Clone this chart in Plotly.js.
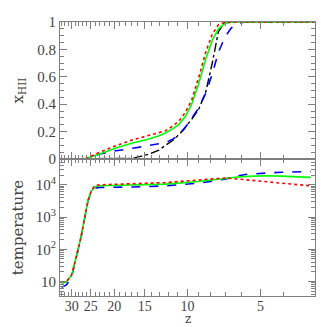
<!DOCTYPE html>
<html>
<head>
<meta charset="utf-8">
<script src="https://cdn.plot.ly/plotly-3.0.1.min.js"></script>
<style>
  html, body { margin: 0; padding: 0; background: #fff; }
  #graphDiv { width: 327px; height: 327px; }
</style>
</head>
<body>
<div id="graphDiv"></div>
<script>
// Ionized fraction (top) and temperature (bottom) against redshift

// redshift grid for the ionized fraction panel
var zIon = [33, 30, 26.5, 23, 19.7, 16.8, 14.4, 13.1, 12.3, 11.5, 10.8, 10.2, 9.6, 9.0, 8.4, 7.9, 7.45, 7.0, 6.6, 6.2, 5.8, 5, 4, 3];
var xRed   = [0, 0, 0, 0.049, 0.097, 0.14, 0.17, 0.19, 0.206, 0.24, 0.28, 0.34, 0.43, 0.59, 0.78, 0.91, 0.98, 0.997, 1, 1, 1, 1, 1, 1];
var xGreen = [0, 0, 0, 0.036, 0.08, 0.117, 0.146, 0.17, 0.19, 0.22, 0.255, 0.31, 0.40, 0.545, 0.73, 0.865, 0.95, 0.99, 0.999, 1, 1, 1, 1, 1];
var xBlue  = [0, 0, 0, 0.036, 0.06, 0.078, 0.097, 0.108, 0.12, 0.145, 0.175, 0.23, 0.295, 0.37, 0.48, 0.62, 0.78, 0.89, 0.955, 0.99, 1, 1, 1, 1];
var xBlack = [0, 0, 0, 0, 0, 0.005, 0.035, 0.065, 0.1, 0.135, 0.18, 0.23, 0.29, 0.36, 0.49, 0.70, 0.93, 1, 1, 1, 1, 1, 1, 1];

// redshift grid for the temperature panel
var zTemp = [33, 31.5, 30, 29.1, 28.2, 27.3, 26.5, 25.7, 24.9, 24.1, 23, 16.8, 12.3, 9, 7, 6.2, 5.6, 5.1, 4.8, 4.1, 3.1];
var tRed   = [9.3, 10, 16, 37, 98, 290, 950, 3200, 6500, 9300, 10000, 11000, 11700, 14100, 16200, 15100, 13800, 13200, 12600, 11200, 9300];
var tGreen = [8.8, 9.6, 15.5, 37, 97, 288, 940, 3150, 6300, 8500, 9300, 9800, 10500, 12600, 15800, 17400, 18200, 18600, 19000, 18600, 17000];
var tBlue  = [6.6, 7.8, 14, 35, 95, 285, 930, 3100, 6000, 7800, 8300, 8500, 9300, 11200, 15000, 19000, 21400, 22400, 23400, 24500, 25700];

// tick labels
var zTicks = [30, 25, 20, 15, 10, 5];
var tTicks = [10, 100, 1000, 10000];
var tTickText = ["10", "10<sup>2</sup>", "10<sup>3</sup>", "10<sup>4</sup>"];

var zMinor = [];
for (var i = 3; i <= 33; i++) zMinor.push(i);
var tMinor = [];
for (var d = 1; d <= 10000; d *= 10) {
    for (var m = 2; m <= 9; m++) tMinor.push(m * d);
}

var axisColor = "#808080";
var textColor = "#444";

var line = function (x, y, color, dash, xa, ya, width) {
    return {
        x: x, y: y, xaxis: xa, yaxis: ya,
        mode: "lines", type: "scatter",
        line: { color: color, dash: dash, width: width || 1.6 },
        hoverinfo: "none", showlegend: false
    };
};

var data = [
    line(zIon, xBlack, "#000000", "dashdot", "x", "y", 1.4),
    line(zIon, xBlue, "#0000ff", "dash", "x", "y"),
    line(zIon, xGreen, "#00ff00", "solid", "x", "y"),
    line(zIon, xRed, "#ff0000", "dot", "x", "y"),
    line(zTemp, tBlue, "#0000ff", "dash", "x2", "y2"),
    line(zTemp, tGreen, "#00ff00", "solid", "x2", "y2"),
    line(zTemp, tRed, "#ff0000", "dot", "x2", "y2")
];

var zRange = [Math.log10(33.5), Math.log10(2.98)];

var baseAxis = {
    showline: true, linecolor: axisColor, linewidth: 1,
    mirror: "allticks", ticks: "inside", ticklen: 7, tickwidth: 1, tickcolor: axisColor,
    showgrid: false, zeroline: false,
    tickfont: { family: "Liberation Serif, serif", size: 15, color: textColor }
};

var layout = {
    width: 327, height: 327,
    margin: { l: 60, r: 12, t: 22, b: 31 },
    paper_bgcolor: "#fff", plot_bgcolor: "#fff",
    showlegend: false,
    xaxis: Object.assign({}, baseAxis, {
        type: "log", range: zRange, anchor: "y",
        tickmode: "array", tickvals: zTicks, showticklabels: false,
        minor: { tickmode: "array", tickvals: zMinor, ticks: "inside", ticklen: 4, tickcolor: axisColor, showgrid: false }
    }),
    xaxis2: Object.assign({}, baseAxis, {
        type: "log", range: zRange, anchor: "y2",
        tickmode: "array", tickvals: zTicks, ticktext: zTicks.map(String),
        ticklabelstandoff: -3,
        tickfont: { family: "Liberation Serif, serif", size: 14, color: textColor },
        minor: { tickmode: "array", tickvals: zMinor, ticks: "inside", ticklen: 4, tickcolor: axisColor, showgrid: false }
    }),
    yaxis: Object.assign({}, baseAxis, {
        domain: [0.5, 1], range: [0, 1], anchor: "x",
        dtick: 0.2,
        minor: { dtick: 0.05, ticks: "inside", ticklen: 4, tickcolor: axisColor, showgrid: false },
        title: { text: "x<sub>HII</sub>", standoff: 10, font: { family: "DejaVu Serif, serif", size: 15, color: textColor } }
    }),
    yaxis2: Object.assign({}, baseAxis, {
        domain: [0, 0.5], type: "log", range: [0.55, 4.8], anchor: "x2",
        tickmode: "array", tickvals: tTicks, ticktext: tTickText,
        minor: { tickmode: "array", tickvals: tMinor, ticks: "inside", ticklen: 4, tickcolor: axisColor, showgrid: false },
        title: { text: "temperature", standoff: 8, font: { family: "DejaVu Serif, serif", size: 15, color: textColor } }
    }),
    annotations: [{
        text: "z", xref: "paper", yref: "paper", x: 0.5, y: 0,
        xanchor: "center", yanchor: "bottom", yshift: -32, showarrow: false,
        font: { family: "DejaVu Serif, serif", size: 12, color: textColor }
    }]
};

graphDiv = document.getElementById('graphDiv');
Plotly.newPlot(graphDiv, data, layout, { staticPlot: true, displayModeBar: false });
</script>
</body>
</html>
